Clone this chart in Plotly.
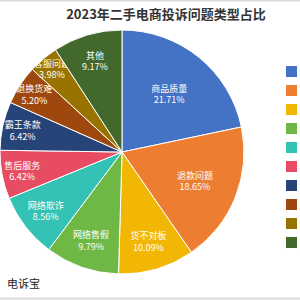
import plotly.graph_objects as go

categories = ["商品质量", "退款问题", "货不对板", "网络售假", "网络欺诈",
              "售后服务", "霸王条款", "退换货难", "客服问题", "其他"]
shares = [21.71, 18.65, 10.09, 9.79, 8.56, 6.42, 6.42, 5.20, 3.98, 9.17]
colors = ["#4472C4", "#ED7D31", "#F2B705", "#70B845", "#33C2B4",
          "#E74C63", "#264478", "#9E480E", "#997300", "#43682B"]

fig = go.Figure(go.Pie(
    labels=categories,
    values=shares,
    sort=False,
    direction="clockwise",
    rotation=0,
    marker=dict(colors=colors, line=dict(color="white", width=1)),
    texttemplate="%{label}<br>%{value:.2f}%",
    textposition="inside",
    insidetextorientation="horizontal",
    textfont=dict(color="white", size=9, family="Noto Sans CJK SC"),
    domain=dict(x=[0, 244 / 300], y=[1 - 274 / 300, 1 - 30 / 300]),
    hoverinfo="label+percent",
))

fig.update_layout(
    width=300, height=300,
    margin=dict(l=0, r=0, t=0, b=0, autoexpand=False),
    paper_bgcolor="white",
    plot_bgcolor="white",
    uniformtext=dict(minsize=9, mode="show"),
    title=dict(text="<b>2023年二手电商投诉问题类型占比</b>", x=166 / 300, xanchor="center",
               y=1 - 14 / 300, yanchor="middle",
               font=dict(size=13, color="#333333", family="Noto Sans CJK SC")),
    legend=dict(x=0.905, xanchor="left", y=1 - 57 / 300, yanchor="top",
                font=dict(size=9, color="#666666", family="Noto Sans CJK SC"),
                tracegroupgap=0, itemwidth=30, bgcolor="rgba(0,0,0,0)"),
    showlegend=True,
    annotations=[dict(text="电诉宝", x=5 / 300, y=1 - 283 / 300, xref="paper", yref="paper",
                      xanchor="left", yanchor="middle", showarrow=False,
                      font=dict(size=11, color="#222222", family="Noto Sans CJK SC"))],
    shapes=[
        dict(type="line", xref="paper", yref="paper", x0=0, x1=1, y0=1 - 0.5 / 300, y1=1 - 0.5 / 300,
             line=dict(color="#d9d9d9", width=2)),
        dict(type="line", xref="paper", yref="paper", x0=0, x1=1, y0=1.5 / 300, y1=1.5 / 300,
             line=dict(color="#d9d9d9", width=2)),
    ],
)

fig.write_html("out.html")
